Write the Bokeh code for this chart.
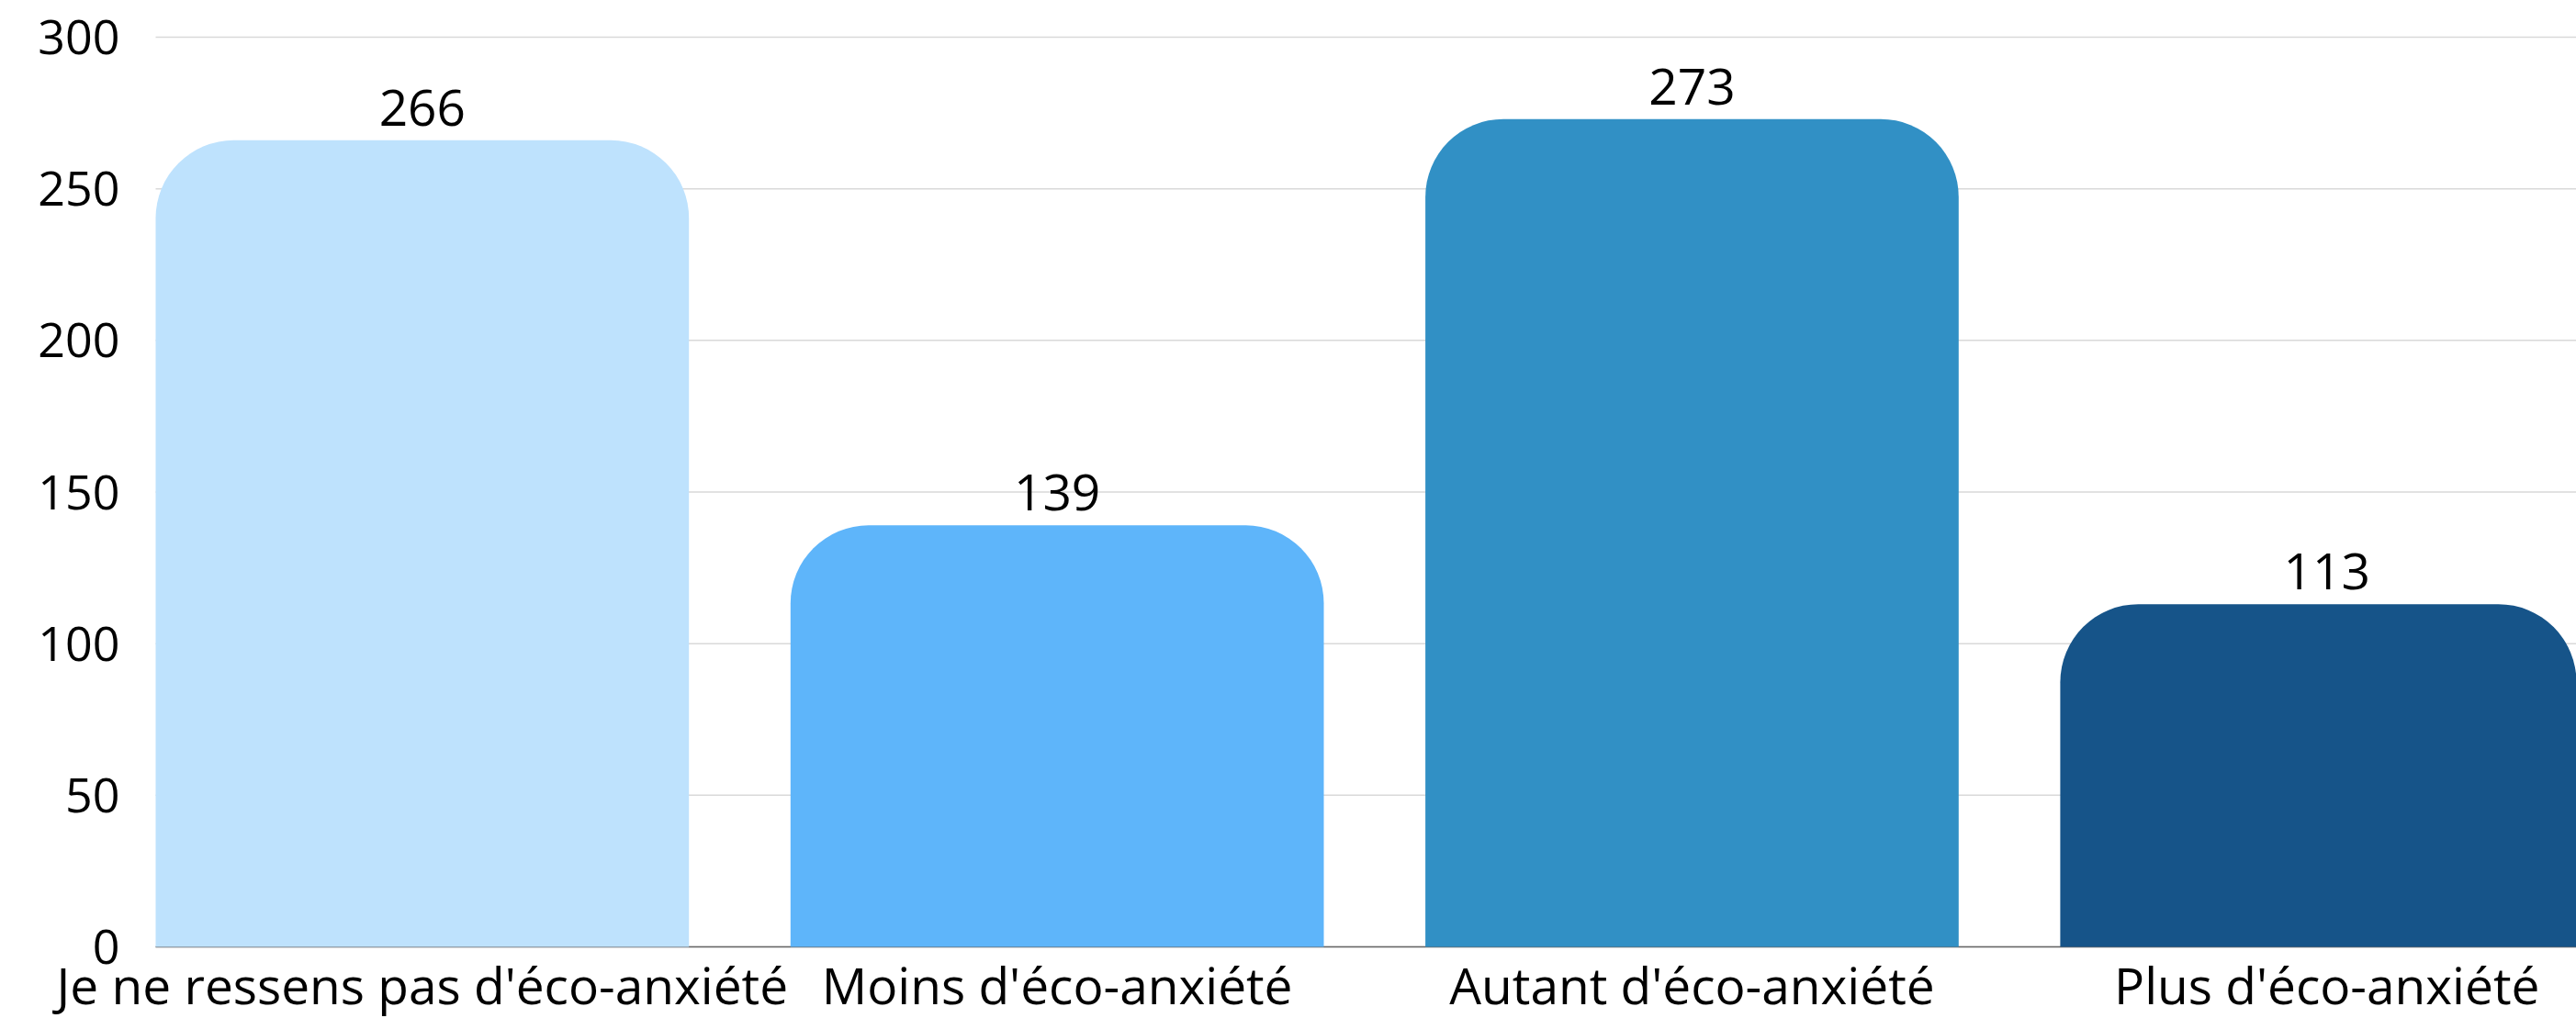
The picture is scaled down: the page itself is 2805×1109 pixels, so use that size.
from bokeh.plotting import figure
from bokeh.models import ColumnDataSource, Range1d, LabelSet
from bokeh.core.properties import value
from bokeh.embed import file_html
from bokeh.resources import INLINE

categories = ["Je ne ressens pas d'éco-anxiété", "Moins d'éco-anxiété",
              "Autant d'éco-anxiété", "Plus d'éco-anxiété"]
values = [266, 139, 273, 113]
colors = ["#BEE2FD", "#5EB5FA", "#3190C5", "#165489"]
y_ticks = [0, 50, 100, 150, 200, 250, 300]

FONT = "Open Sans"
FS = "55px"

# layout geometry (pixels)
W, H = 2805, 1109
LEFT, TOP = 169, 40        # pixel position of plot area corner
ZERO_Y = 1031              # pixel row of value 0
Y_MAX = 300
px_per_unit = (ZERO_Y - TOP) / Y_MAX
slot_px = 691.3
bar_width = 0.84
area_start = (1 - bar_width) / 2          # left edge of first bar
x_start = area_start - LEFT / slot_px
x_end = area_start + (W - LEFT) / slot_px
y_start = -(H - ZERO_Y) / px_per_unit
y_end = Y_MAX + TOP / px_per_unit

xpos = [i + 0.5 for i in range(len(categories))]
src = ColumnDataSource(dict(x=xpos, top=values, color=colors, zero=[0] * len(values),
                            label=[str(v) for v in values], cat=categories))
tick_src = ColumnDataSource(dict(y=y_ticks, x0=[area_start] * len(y_ticks),
                                 x1=[x_end] * len(y_ticks),
                                 label=[str(t) for t in y_ticks]))

p = figure(width=W, height=H, output_backend="svg", toolbar_location=None,
           x_range=Range1d(x_start, x_end), y_range=Range1d(y_start, y_end),
           min_border=0)
p.outline_line_color = None
p.background_fill_color = "white"
p.border_fill_color = "white"
p.axis.visible = False
p.grid.visible = False

# gridlines
p.segment(x0="x0", x1="x1", y0="y", y1="y", source=tick_src,
          line_color="#D9D9D9", line_width=1.5)
# baseline axis
p.segment(x0=[area_start], x1=[x_end], y0=[0], y1=[0],
          line_color="#666666", line_width=1.5)

p.vbar(x="x", top="top", bottom=0, width=bar_width, color="color", source=src,
       line_color=None, border_radius=(85, 85, 0, 0))

# value labels
p.add_layout(LabelSet(x="x", y="top", text="label", source=src, y_offset=16,
                      text_align="center", text_baseline="alphabetic",
                      text_font=value(FONT), text_font_size=FS, text_color="#000000"))
# category labels
p.add_layout(LabelSet(x="x", y="zero", text="cat", source=src, y_offset=-62,
                      text_align="center", text_baseline="alphabetic",
                      text_font=value(FONT), text_font_size=FS, text_color="#000000"))
# y tick labels
p.add_layout(LabelSet(x="x0", y="y", text="label", source=tick_src, x_offset=-39,
                      text_align="right", text_baseline="middle",
                      text_font=value(FONT), text_font_size="52px", text_color="#000000"))

open("out.html", "w").write(file_html(p, INLINE))
